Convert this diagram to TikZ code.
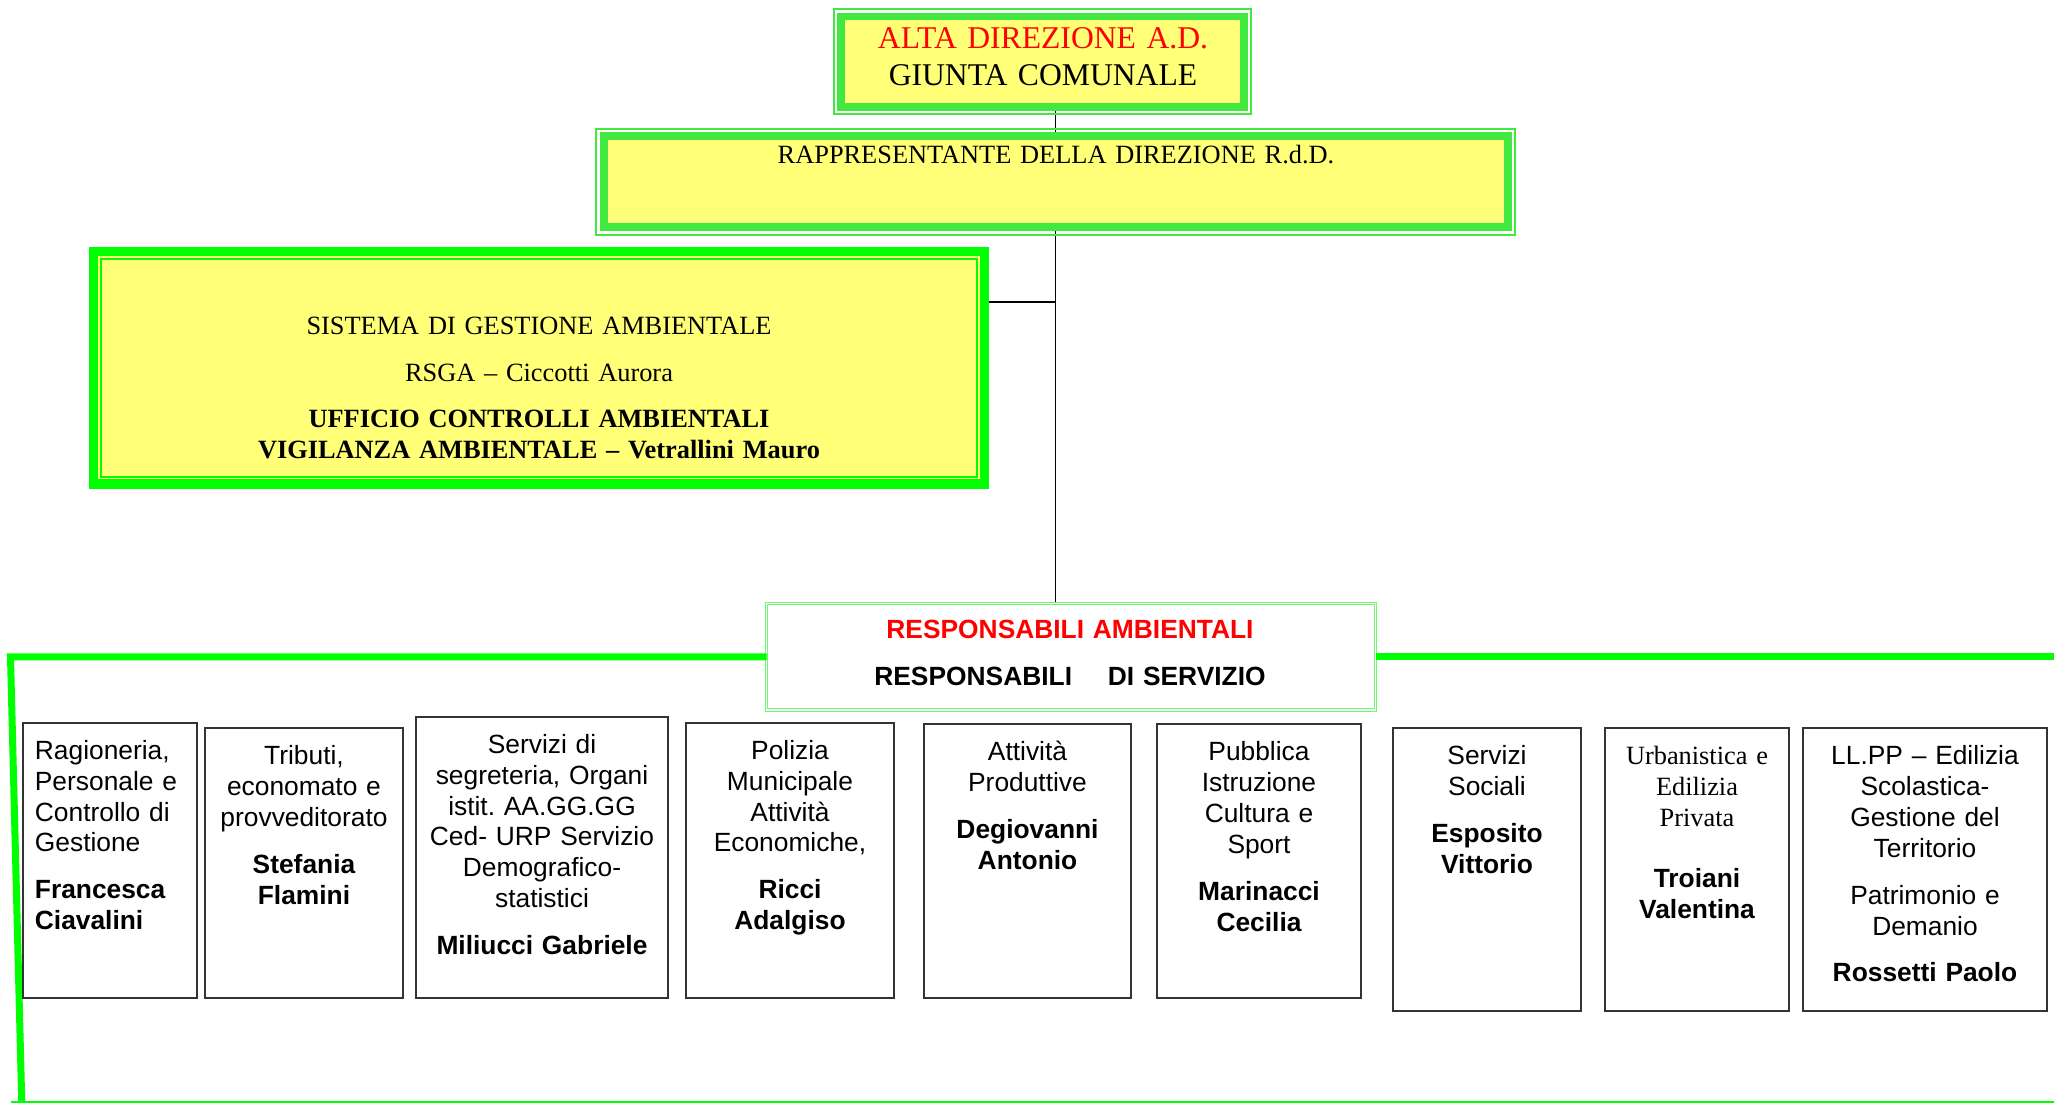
\documentclass[tikz,border=0pt]{standalone}
\usepackage{fontspec}
\setmainfont{Liberation Serif}
\setsansfont{Liberation Sans}
\usetikzlibrary{backgrounds}
\frenchspacing

\definecolor{bandgreen}{RGB}{64,232,64}
\definecolor{limegreen}{RGB}{0,255,0}
\definecolor{paleyellow}{RGB}{255,255,120}
\definecolor{resgreen}{RGB}{110,250,110}

\begin{document}
\begin{tikzpicture}[font=\sffamily\fontsize{7.5}{8.8}\selectfont,
  dirbox/.style={draw=bandgreen, line width=0.078cm, fill=paleyellow, inner sep=0pt, outer sep=0pt},
  dirframe/.style={draw=bandgreen, line width=0.02cm},
  sgabox/.style={draw=limegreen, line width=0.093cm, fill=paleyellow, inner sep=0pt, outer sep=0pt},
  sgaframe/.style={draw=limegreen, line width=0.02cm},
  resbox/.style={draw=resgreen, double=white, line width=0.011cm, double distance=0.014cm, inner sep=0pt, outer sep=0pt},
  deptbox/.style={draw=black!80, line width=0.45pt, inner sep=0pt},
  txt/.style={anchor=base, inner sep=0pt, align=center},
  serifbig/.style={font=\rmfamily\fontsize{9}{10.5}\selectfont},
  seriftext/.style={font=\rmfamily\fontsize{7.5}{8.7}\selectfont},
  link/.style={line width=0.5pt},
  greenline/.style={draw=limegreen, line width=0.07cm}]

\useasboundingbox (0,0) rectangle (20.54,-11.03);

% alta direzione
\node[dirbox, minimum width=4.03cm, minimum height=0.905cm] (ad) at (10.426,-0.6175) {};
\draw[dirframe] ([shift={(-0.07,0.07)}]ad.north west) rectangle ([shift={(0.07,-0.07)}]ad.south east);
\node[serifbig, txt, text width=4cm] (adtxt) at (10.43,-0.49) {\textcolor{red}{ALTA DIREZIONE A.D.}\\GIUNTA COMUNALE};

% rappresentante
\node[dirbox, minimum width=9.04cm, minimum height=0.907cm] (rdd) at (10.556,-1.817) {};
\draw[dirframe] ([shift={(-0.077,0.077)}]rdd.north west) rectangle ([shift={(0.077,-0.077)}]rdd.south east);
\node[seriftext, txt, text width=9cm] (rddtxt) at (10.56,-1.64) {RAPPRESENTANTE DELLA DIREZIONE R.d.D.};

% sistema di gestione ambientale
\node[sgabox, minimum width=8.906cm, minimum height=2.323cm] (sga) at (5.39,-3.6785) {};
\draw[sgaframe] ([shift={(0.072,-0.072)}]sga.north west) rectangle ([shift={(-0.072,0.072)}]sga.south east);
\node[seriftext, txt, text width=8.6cm] (sgatxt) at (5.39,-3.35) {SISTEMA DI GESTIONE AMBIENTALE\\[4.5pt]RSGA – Ciccotti Aurora\\[4.5pt]\bfseries UFFICIO CONTROLLI AMBIENTALI\\VIGILANZA AMBIENTALE – Vetrallini Mauro};

% responsabili
\node[resbox, minimum width=6.09cm, minimum height=1.065cm] (resp) at (10.71,-6.5675) {};
\node[txt, font=\sffamily\bfseries\fontsize{7.5}{8.7}\selectfont, text width=6cm] (resptxt) at (10.70,-6.385) {\textcolor{red}{RESPONSABILI AMBIENTALI}\\[4.7pt]RESPONSABILI\hspace{10.2pt}DI SERVIZIO};

% green frame
\draw[greenline, line join=miter] (resp.west) -- (0.105,-6.5675) -- (0.22,-11.12);
\draw[greenline] (resp.east) -- (20.7,-6.5675);
\draw[greenline] (0.11,-11.045) -- (20.7,-11.045);

% links
\begin{scope}[on background layer]
\draw[link] (ad.south -| rdd.north) -- (rdd.north);
\draw[link] (rdd.south) -- (rdd.south |- resp.north);
\coordinate (fork) at (10.556,-3.02);
\draw[link] (fork) -- (fork -| sga.east);
\end{scope}

% servizi
\node[deptbox, minimum width=1.74cm, minimum height=2.75cm] (rag) at (1.10,-8.605) {};
\node[deptbox, minimum width=1.98cm, minimum height=2.70cm] (trib) at (3.04,-8.63) {};
\node[deptbox, minimum width=2.52cm, minimum height=2.81cm] (segr) at (5.42,-8.575) {};
\node[deptbox, minimum width=2.08cm, minimum height=2.75cm] (pol) at (7.90,-8.605) {};
\node[deptbox, minimum width=2.07cm, minimum height=2.74cm] (att) at (10.275,-8.61) {};
\node[deptbox, minimum width=2.04cm, minimum height=2.74cm] (pub) at (12.59,-8.61) {};
\node[deptbox, minimum width=1.88cm, minimum height=2.83cm] (soc) at (14.87,-8.695) {};
\node[deptbox, minimum width=1.84cm, minimum height=2.83cm] (urb) at (16.97,-8.695) {};
\node[deptbox, minimum width=2.44cm, minimum height=2.83cm] (llpp) at (19.25,-8.695) {};

\node[txt, anchor=base west, align=left, text width=1.55cm] (ragtxt) at ([xshift=0.12cm, yshift=-0.37cm]rag.north west) {Ragioneria,\\Personale e\\Controllo di\\Gestione\\[4.5pt]\bfseries Francesca\\Ciavalini};
\node[txt, text width=1.98cm] (tribtxt) at ([yshift=-0.375cm]trib.north) {Tributi,\\economato e\\provveditorato\\[4.5pt]\bfseries Stefania\\Flamini};
\node[txt, text width=2.52cm] (segrtxt) at ([yshift=-0.37cm]segr.north) {Servizi di\\segreteria, Organi\\istit. AA.GG.GG\\Ced- URP Servizio\\Demografico-\\statistici\\[4.5pt]\bfseries Miliucci Gabriele};
\node[txt, text width=2.08cm] (poltxt) at ([yshift=-0.37cm]pol.north) {Polizia\\Municipale\\Attività\\Economiche,\\[4.5pt]\bfseries Ricci\\Adalgiso};
\node[txt, text width=2.07cm] (atttxt) at ([yshift=-0.375cm]att.north) {Attività\\Produttive\\[4.5pt]\bfseries Degiovanni\\Antonio};
\node[txt, text width=2.04cm] (pubtxt) at ([yshift=-0.375cm]pub.north) {Pubblica\\Istruzione\\Cultura e\\Sport\\[4.5pt]\bfseries Marinacci\\Cecilia};
\node[txt, text width=1.88cm] (soctxt) at ([yshift=-0.375cm]soc.north) {Servizi\\Sociali\\[4.5pt]\bfseries Esposito\\Vittorio};
\node[txt, text width=1.84cm] (urbtxt) at ([yshift=-0.375cm]urb.north) {\rmfamily Urbanistica e\\Edilizia\\Privata\\[8.6pt]\sffamily\bfseries Troiani\\Valentina};
\node[txt, text width=2.44cm] (llpptxt) at ([yshift=-0.375cm]llpp.north) {LL.PP – Edilizia\\Scolastica-\\Gestione del\\Territorio\\[4.5pt]Patrimonio e\\Demanio\\[4.5pt]\bfseries Rossetti Paolo};

\end{tikzpicture}
\end{document}
